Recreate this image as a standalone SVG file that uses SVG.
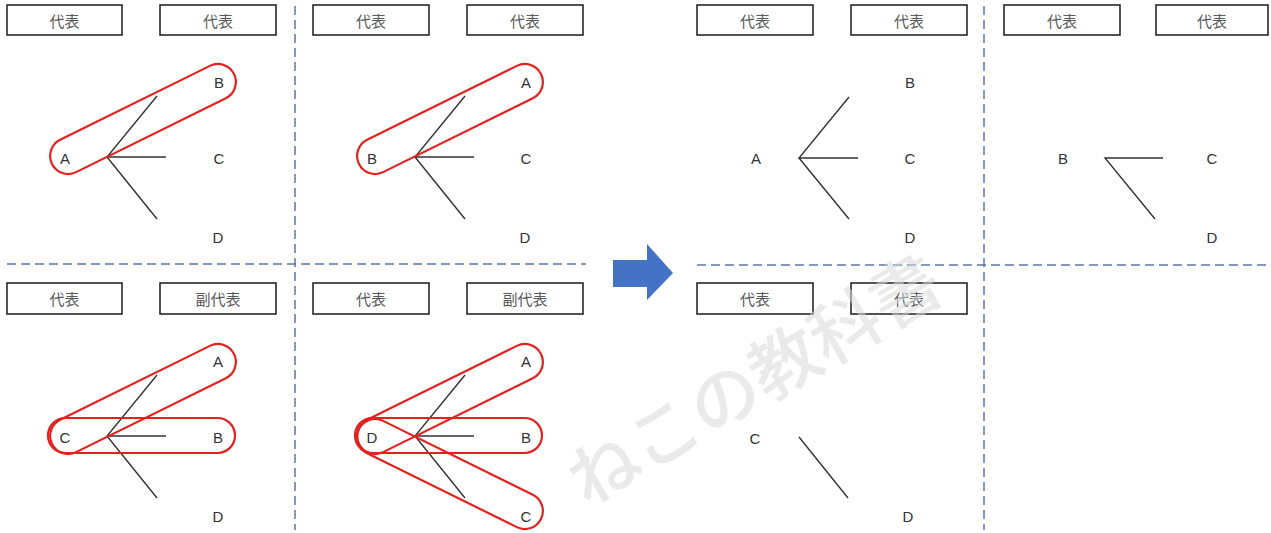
<svg xmlns="http://www.w3.org/2000/svg" width="1271" height="533" viewBox="0 0 1271 533">
<style>
.bg{fill:#fff}
.box{fill:#fff;stroke:#1a1a1a;stroke-width:1.5}
.bt{font-family:"Noto Sans CJK JP","Noto Sans",sans-serif;font-size:15px;fill:#595959;text-anchor:middle;dominant-baseline:central}
.lb{font-family:"Liberation Sans",Arial,sans-serif;font-size:15px;fill:#333;text-anchor:middle;dominant-baseline:central}
.ln{stroke:#333;stroke-width:1.4;fill:none}
.cap{fill:none;stroke:#e3211f;stroke-width:2.2}
.div{stroke:#5a78a8;stroke-width:1.5;stroke-dasharray:9 5;fill:none}
.wm{font-family:"Noto Sans CJK JP",sans-serif;font-size:70px;font-weight:500;fill:#d8d8d8;fill-opacity:0.55;text-anchor:middle;dominant-baseline:central}
</style>
<rect class="bg" x="0" y="0" width="1271" height="533"/>

<g id="dividers">
<line class="div" x1="295" y1="6" x2="295" y2="530"/>
<line class="div" x1="7" y1="264" x2="586" y2="264"/>
<line class="div" x1="984" y1="6" x2="984" y2="530"/>
<line class="div" x1="697" y1="265" x2="1266" y2="265"/>
</g>

<g id="arrow">
<path d="M613,260 H647 V244 L673,273 L647,300 V287 H613 Z" fill="#4472c4"/>
</g>

<!-- Panel 1 -->
<g id="p1">
<rect class="box" x="7" y="5" width="115" height="30"/><text class="bt" x="64.5" y="20">代表</text>
<rect class="box" x="160" y="5" width="116" height="30"/><text class="bt" x="218" y="20">代表</text>
<g id="p1-lines"><path class="ln" d="M157,96 L107,157 L166,157 M107,157 L157,219"/></g>
<text class="lb" x="65" y="158">A</text><text class="lb" x="219" y="82">B</text><text class="lb" x="219" y="158">C</text><text class="lb" x="218" y="237">D</text>
<rect class="cap" x="41.5" y="101" width="203" height="36" rx="18" transform="rotate(-26.3 143 119)"/>
</g>

<!-- Panel 2 -->
<g id="p2">
<rect class="box" x="313" y="5" width="116" height="30"/><text class="bt" x="371" y="20">代表</text>
<rect class="box" x="467" y="5" width="116" height="30"/><text class="bt" x="525" y="20">代表</text>
<g id="p2-lines"><path class="ln" d="M465,96 L415,157 L474,157 M415,157 L465,219"/></g>
<text class="lb" x="372" y="158">B</text><text class="lb" x="526" y="82">A</text><text class="lb" x="526" y="158">C</text><text class="lb" x="525" y="237">D</text>
<rect class="cap" x="348.5" y="101" width="203" height="36" rx="18" transform="rotate(-26.3 450 119)"/>
</g>

<!-- Panel 3 -->
<g id="p3">
<rect class="box" x="7" y="283" width="115" height="31"/><text class="bt" x="64.5" y="298">代表</text>
<rect class="box" x="160" y="283" width="116" height="31"/><text class="bt" x="218" y="298">副代表</text>
<g id="p3-lines"><path class="ln" d="M157,375 L107,436 L166,436 M107,436 L157,498"/></g>
<text class="lb" x="218" y="361">A</text><text class="lb" x="65" y="437">C</text><text class="lb" x="218" y="437">B</text><text class="lb" x="218" y="516">D</text>
<rect class="cap" x="41.5" y="381" width="203" height="36" rx="18" transform="rotate(-26.3 143 399)"/>
<rect class="cap" x="48" y="418" width="187" height="35" rx="17.5"/>
</g>

<!-- Panel 4 -->
<g id="p4">
<rect class="box" x="313" y="283" width="116" height="31"/><text class="bt" x="371" y="298">代表</text>
<rect class="box" x="467" y="283" width="116" height="31"/><text class="bt" x="525" y="298">副代表</text>
<g id="p4-lines"><path class="ln" d="M465,375 L415,436 L474,436 M415,436 L465,498"/></g>
<text class="lb" x="526" y="361">A</text><text class="lb" x="372" y="437">D</text><text class="lb" x="526" y="437">B</text><text class="lb" x="526" y="516">C</text>
<rect class="cap" x="348.5" y="381" width="203" height="36" rx="18" transform="rotate(-26.3 450 399)"/>
<rect class="cap" x="355" y="418" width="187" height="35" rx="17.5"/>
<rect class="cap" x="348.5" y="456" width="203" height="36" rx="18" transform="rotate(26.3 450 474)"/>
</g>

<!-- Panel 5 -->
<g id="p5">
<rect class="box" x="697" y="5" width="116" height="30"/><text class="bt" x="755" y="20">代表</text>
<rect class="box" x="851" y="5" width="116" height="30"/><text class="bt" x="909" y="20">代表</text>
<g id="p5-lines"><path class="ln" d="M849,97 L799,158 L858,158 M799,158 L849,219"/></g>
<text class="lb" x="756" y="158">A</text><text class="lb" x="910" y="82">B</text><text class="lb" x="910" y="158">C</text><text class="lb" x="910" y="237">D</text>
</g>

<!-- Panel 6 -->
<g id="p6">
<rect class="box" x="1004" y="5" width="116" height="30"/><text class="bt" x="1062" y="20">代表</text>
<rect class="box" x="1156" y="5" width="112" height="30"/><text class="bt" x="1212" y="20">代表</text>
<g id="p6-lines"><path class="ln" d="M1163,158 L1105,158 L1155,219"/></g>
<text class="lb" x="1063" y="158">B</text><text class="lb" x="1212" y="158">C</text><text class="lb" x="1212" y="237">D</text>
</g>

<!-- Panel 7 -->
<g id="p7">
<rect class="box" x="697" y="283" width="116" height="31"/><text class="bt" x="755" y="298">代表</text>
<rect class="box" x="851" y="283" width="116" height="31"/><text class="bt" x="909" y="298">代表</text>
<g id="p7-lines"><path class="ln" d="M799,437 L848,498"/></g>
<text class="lb" x="755" y="438">C</text><text class="lb" x="908" y="516">D</text>
</g>

<g id="watermark">
<text class="wm" x="752" y="376" transform="rotate(-30.5 752 376)">ねこの教科書</text>
</g>
</svg>
